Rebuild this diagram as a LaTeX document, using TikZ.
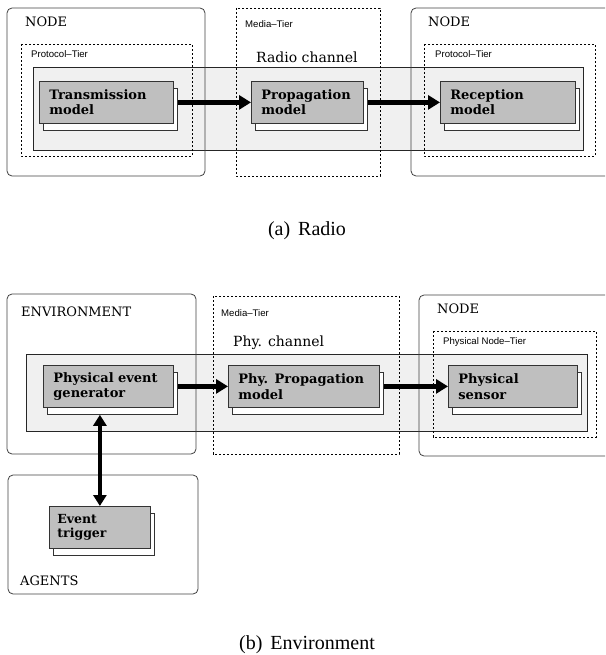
\documentclass[tikz,border=0pt]{standalone}
\usepackage{fontspec}
\setmainfont{DejaVu Serif}
\newfontfamily\tierfont{Liberation Sans}
\newfontfamily\capfont{Liberation Serif}
\usetikzlibrary{arrows.meta}
\pgfdeclarelayer{bg}
\pgfdeclarelayer{shd}
\pgfsetlayers{bg,shd,main}

\begin{document}
\begin{tikzpicture}[x=1pt,y=-1pt,
  realm/.style={draw=black!75, line width=0.8pt, rounded corners=5pt},
  tier/.style={draw=black, line width=0.7pt, dash pattern=on 2.2pt off 1.8pt},
  channel/.style={draw=black!85, fill=black!6, line width=0.8pt},
  model/.style={draw=black!80, fill=black!25, line width=0.8pt, anchor=north west,
    minimum height=42pt, inner xsep=10pt, inner ysep=0pt, align=left,
    font=\bfseries\fontsize{13}{15.5}\selectfont},
  shade/.style={draw=black!80, fill=white, line width=0.8pt},
  flow/.style={line width=5pt, -{Triangle[length=12pt,width=14pt]}},
  bothflow/.style={line width=4.5pt, {Triangle[length=11pt,width=13pt]}-{Triangle[length=11pt,width=13pt]}},
  realmlabel/.style={anchor=base west, inner sep=0pt, font=\fontsize{13}{15}\selectfont},
  tierlabel/.style={anchor=base west, inner sep=0pt, font=\tierfont\fontsize{9.6}{11}\selectfont},
  chanlabel/.style={anchor=base west, inner sep=0pt, font=\fontsize{14}{16}\selectfont},
  caption/.style={anchor=base, inner sep=0pt, font=\capfont\fontsize{20}{24}\selectfont},
]
\useasboundingbox (0,0) rectangle (605,655);

% ---------------- (a) Radio ----------------
\begin{pgfonlayer}{bg}
  \draw[channel] (33,67) rectangle (583,150);
  \draw[realm] (7,8) rectangle (205,176);
  \draw[tier] (21,44) rectangle (192,156);
  \draw[tier] (236,8) rectangle (380,176);
  \draw[realm] (605,8) -- (411,8) -- (411,176) -- (605,176);
  \draw[tier] (424,44) rectangle (595,156);
\end{pgfonlayer}

\node[realmlabel] (nodeA) at (25,27) {NODE};
\node[tierlabel] (protoA) at (31,58) {Protocol–Tier};
\node[tierlabel] (mediaA) at (245,28) {Media–Tier};
\node[chanlabel] (radioch) at (256,63) {Radio channel};
\node[realmlabel] (nodeB) at (428,27) {NODE};
\node[tierlabel] (protoB) at (435,58) {Protocol–Tier};

\node[model, text width=114pt] (tx) at (39,81) {Transmission\\model};
\node[model, text width=92pt] (prop) at (251,81) {Propagation\\model};
\node[model, text width=115pt] (rx) at (440,81) {Reception\\model};

\begin{pgfonlayer}{shd}
  \foreach \m in {tx,prop,rx}
    \draw[shade] ([shift={(4,7)}]\m.north west) rectangle ([shift={(4,7)}]\m.south east);
\end{pgfonlayer}

\draw[flow] ([xshift=4pt]tx.east) -- (prop.west);
\draw[flow] ([xshift=4pt]prop.east) -- (rx.west);

\node[caption] (capA) at (307,235) {(a)\hspace{8pt}Radio};

% ---------------- (b) Environment ----------------
\begin{pgfonlayer}{bg}
  \draw[channel] (26,354) rectangle (587,431);
  \draw[realm] (7,294) rectangle (196,454);
  \draw[tier] (213,296) rectangle (399,454);
  \draw[realm] (605,295) -- (419,295) -- (419,456) -- (605,456);
  \draw[tier] (433,331) rectangle (596,437);
  \draw[realm] (8,475) rectangle (198,594);
\end{pgfonlayer}

\node[realmlabel] (envlab) at (21,316) {ENVIRONMENT};
\node[tierlabel] (mediaB) at (221,316) {Media–Tier};
\node[chanlabel] (phych) at (233,346) {Phy. channel};
\node[realmlabel] (nodeC) at (437,313) {NODE};
\node[tierlabel] (phystier) at (443,344) {Physical Node–Tier};
\node[realmlabel] (agentlab) at (20,585) {AGENTS};

\node[model, text width=110pt] (gen) at (43,365) {Physical event\\generator};
\node[model, text width=131pt] (pprop) at (228,365) {Phy. Propagation\\model};
\node[model, text width=109pt] (sens) at (448,365) {Physical\\sensor};
\node[model, text width=85pt, inner xsep=8pt, font=\bfseries\fontsize{12.5}{14.5}\selectfont] (trig) at (49,506) {Event\\trigger};

\begin{pgfonlayer}{shd}
  \foreach \m in {gen,pprop,sens,trig}
    \draw[shade] ([shift={(4,7)}]\m.north west) rectangle ([shift={(4,7)}]\m.south east);
\end{pgfonlayer}

\coordinate (genfoot) at ([shift={(0,7)}]gen.south);
\draw[flow] ([xshift=4pt]gen.east) -- (pprop.west);
\draw[flow] ([xshift=4pt]pprop.east) -- (sens.west);
\draw[bothflow] (trig.north |- genfoot) -- (trig.north);

\node[caption] (capB) at (307,649) {(b)\hspace{8pt}Environment};
\end{tikzpicture}
\end{document}
